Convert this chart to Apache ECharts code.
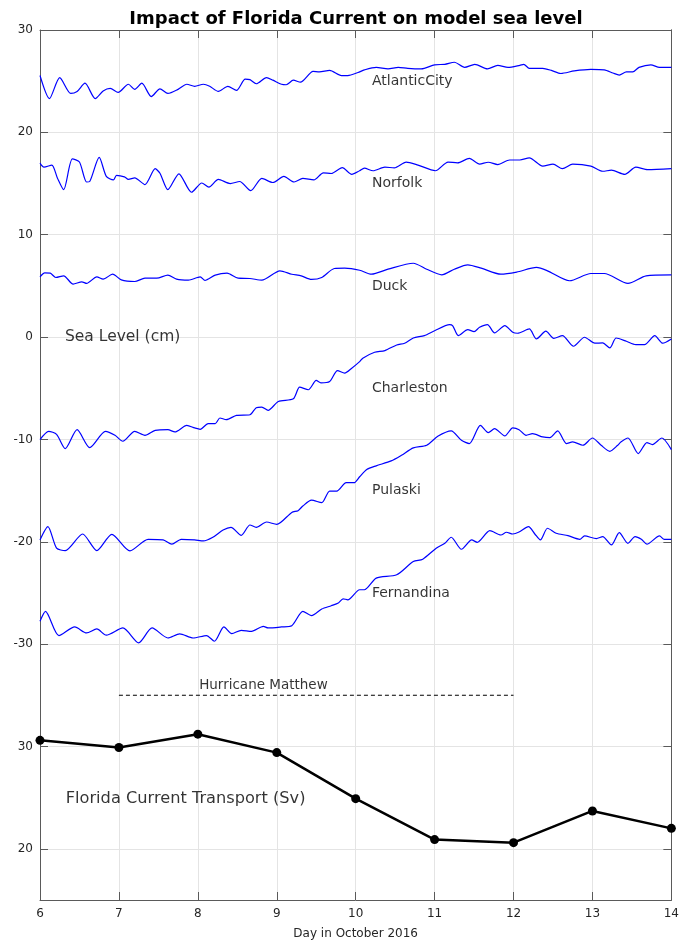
<!DOCTYPE html>
<html>
<head>
<meta charset="utf-8">
<title>Impact of Florida Current on model sea level</title>
<script src="https://cdn.jsdelivr.net/npm/echarts@6/dist/echarts.min.js"></script>
<style>
  html, body { margin: 0; padding: 0; background: #ffffff; }
  #chart { width: 682px; height: 945px; }
</style>
</head>
<body>
<div id="chart"></div>
<script>
// Model sea level (cm, stations offset for display) against day in October 2016
const atlanticCity = [[6.00,25.55],[6.12,23.3],[6.25,25.35],[6.39,23.8],[6.47,24.0],[6.57,24.8],[6.70,23.3],[6.80,24.05],[6.89,24.3],[6.99,23.9],[7.12,24.7],[7.20,24.2],[7.29,24.8],[7.41,23.5],[7.52,24.25],[7.62,23.8],[7.75,24.2],[7.86,24.7],[7.96,24.5],[8.07,24.7],[8.15,24.5],[8.26,24.0],[8.38,24.5],[8.49,24.1],[8.60,25.2],[8.66,25.15],[8.74,24.75],[8.87,25.35],[8.95,25.1],[9.06,24.7],[9.12,24.65],[9.21,25.1],[9.30,24.9],[9.46,25.95],[9.54,25.9],[9.67,26.05],[9.82,25.55],[9.90,25.55],[10.03,25.85],[10.11,26.1],[10.26,26.35],[10.41,26.2],[10.54,26.35],[10.66,26.25],[10.83,26.2],[11.00,26.6],[11.13,26.65],[11.25,26.85],[11.38,26.35],[11.51,26.65],[11.67,26.2],[11.80,26.55],[11.93,26.35],[12.08,26.55],[12.13,26.65],[12.20,26.25],[12.37,26.25],[12.48,26.05],[12.60,25.75],[12.77,26.0],[12.98,26.15],[13.15,26.1],[13.26,25.8],[13.34,25.6],[13.43,25.9],[13.51,25.9],[13.59,26.35],[13.74,26.6],[13.85,26.35],[14.00,26.35]];

const norfolk = [[6.00,17.0],[6.05,16.6],[6.15,16.8],[6.22,15.55],[6.30,14.4],[6.41,17.4],[6.50,17.1],[6.59,15.15],[6.63,15.2],[6.75,17.55],[6.84,15.7],[6.93,15.35],[6.97,15.8],[7.07,15.65],[7.12,15.4],[7.20,15.55],[7.33,14.9],[7.46,16.45],[7.52,16.0],[7.62,14.4],[7.76,15.95],[7.92,14.15],[8.05,15.05],[8.14,14.65],[8.26,15.4],[8.41,15.0],[8.53,15.2],[8.67,14.3],[8.81,15.5],[8.95,15.1],[9.09,15.7],[9.22,15.15],[9.33,15.5],[9.47,15.35],[9.59,16.05],[9.69,15.98],[9.83,16.55],[9.95,15.9],[10.05,16.25],[10.11,16.5],[10.22,16.25],[10.37,16.6],[10.49,16.53],[10.64,17.1],[10.79,16.8],[11.01,16.25],[11.17,17.1],[11.29,17.02],[11.44,17.45],[11.57,16.9],[11.68,17.08],[11.80,16.85],[11.95,17.3],[12.08,17.3],[12.20,17.5],[12.37,16.7],[12.50,16.9],[12.62,16.45],[12.75,16.9],[12.98,16.7],[13.13,16.2],[13.24,16.3],[13.41,15.9],[13.55,16.6],[13.70,16.35],[14.00,16.45]];

const duck = [[6.00,5.88],[6.06,6.27],[6.13,6.24],[6.20,5.82],[6.30,5.98],[6.42,5.17],[6.53,5.4],[6.59,5.24],[6.72,5.88],[6.80,5.66],[6.92,6.14],[7.03,5.59],[7.20,5.43],[7.33,5.75],[7.48,5.75],[7.62,6.05],[7.73,5.66],[7.88,5.56],[8.03,5.88],[8.09,5.53],[8.22,6.05],[8.37,6.24],[8.51,5.75],[8.66,5.72],[8.81,5.56],[9.04,6.47],[9.19,6.14],[9.31,5.98],[9.44,5.63],[9.57,5.82],[9.73,6.7],[9.86,6.73],[10.05,6.53],[10.20,6.14],[10.41,6.63],[10.73,7.21],[10.90,6.63],[11.09,6.08],[11.25,6.63],[11.42,7.05],[11.59,6.73],[11.84,6.14],[12.04,6.35],[12.29,6.8],[12.43,6.47],[12.71,5.5],[12.98,6.21],[13.15,6.21],[13.45,5.24],[13.68,5.98],[14.00,6.08]];

const charleston = [[6.00,-10.02],[6.11,-9.21],[6.21,-9.5],[6.32,-10.9],[6.47,-9.05],[6.63,-10.8],[6.83,-9.21],[6.95,-9.6],[7.05,-10.18],[7.20,-9.21],[7.33,-9.6],[7.46,-9.11],[7.62,-9.05],[7.71,-9.27],[7.86,-8.63],[7.96,-8.88],[8.03,-9.01],[8.13,-8.46],[8.22,-8.46],[8.28,-7.91],[8.36,-8.07],[8.49,-7.65],[8.66,-7.59],[8.74,-6.9],[8.81,-6.84],[8.89,-7.16],[9.02,-6.29],[9.21,-6.03],[9.29,-4.89],[9.40,-5.15],[9.50,-4.24],[9.56,-4.47],[9.67,-4.34],[9.77,-3.27],[9.86,-3.52],[9.95,-3.04],[10.05,-2.4],[10.09,-2.06],[10.24,-1.48],[10.37,-1.32],[10.52,-0.77],[10.62,-0.6],[10.73,-0.09],[10.87,0.14],[11.00,0.62],[11.19,1.21],[11.23,1.1],[11.30,0.14],[11.42,0.72],[11.50,0.53],[11.57,0.95],[11.67,1.21],[11.76,0.4],[11.89,1.11],[11.99,0.47],[12.05,0.37],[12.20,0.79],[12.29,-0.18],[12.41,0.57],[12.51,-0.12],[12.62,0.14],[12.76,-0.9],[12.90,-0.02],[13.03,-0.6],[13.13,-0.57],[13.22,-1.06],[13.30,-0.09],[13.43,-0.41],[13.55,-0.74],[13.66,-0.74],[13.79,0.14],[13.89,-0.6],[14.00,-0.18]];

const pulaski = [[6.00,-19.82],[6.10,-18.52],[6.21,-20.63],[6.32,-20.86],[6.54,-19.24],[6.72,-20.86],[6.91,-19.27],[7.14,-20.89],[7.37,-19.76],[7.56,-19.82],[7.67,-20.24],[7.79,-19.76],[7.96,-19.82],[8.07,-19.92],[8.19,-19.56],[8.32,-18.85],[8.42,-18.59],[8.55,-19.37],[8.66,-18.36],[8.74,-18.59],[8.87,-18.07],[9.00,-18.3],[9.19,-17.13],[9.27,-16.96],[9.33,-16.51],[9.44,-15.93],[9.57,-16.18],[9.67,-15.05],[9.76,-15.05],[9.88,-14.23],[9.98,-14.23],[10.05,-13.65],[10.14,-12.94],[10.26,-12.58],[10.45,-12.1],[10.58,-11.55],[10.73,-10.83],[10.90,-10.57],[11.04,-9.7],[11.21,-9.17],[11.34,-10.09],[11.44,-10.41],[11.58,-8.63],[11.68,-9.34],[11.76,-8.95],[11.89,-9.66],[11.99,-8.88],[12.07,-9.05],[12.16,-9.6],[12.24,-9.44],[12.37,-9.76],[12.46,-9.83],[12.56,-9.17],[12.67,-10.41],[12.75,-10.25],[12.88,-10.57],[13.00,-9.86],[13.11,-10.57],[13.22,-11.16],[13.32,-10.57],[13.36,-10.25],[13.45,-9.86],[13.58,-11.38],[13.69,-10.31],[13.76,-10.5],[13.88,-9.86],[14.00,-11.0]];

const fernandina = [[6.00,-27.77],[6.07,-26.8],[6.24,-29.17],[6.44,-28.32],[6.59,-28.91],[6.72,-28.52],[6.84,-29.13],[7.05,-28.42],[7.25,-29.88],[7.42,-28.42],[7.62,-29.4],[7.77,-29.0],[7.94,-29.4],[8.11,-29.17],[8.21,-29.72],[8.33,-28.32],[8.43,-28.98],[8.55,-28.65],[8.68,-28.75],[8.83,-28.26],[8.89,-28.42],[9.06,-28.32],[9.19,-28.2],[9.33,-26.8],[9.44,-27.22],[9.57,-26.57],[9.69,-26.25],[9.78,-25.99],[9.84,-25.57],[9.90,-25.67],[10.05,-24.69],[10.11,-24.69],[10.26,-23.55],[10.52,-23.23],[10.73,-21.93],[10.85,-21.7],[11.02,-20.63],[11.13,-20.15],[11.21,-19.56],[11.34,-20.73],[11.47,-19.82],[11.54,-20.05],[11.70,-18.92],[11.84,-19.34],[11.91,-19.07],[11.99,-19.24],[12.07,-19.05],[12.19,-18.52],[12.27,-19.24],[12.34,-19.82],[12.43,-18.68],[12.54,-19.17],[12.69,-19.4],[12.84,-19.76],[12.90,-19.43],[13.05,-19.69],[13.13,-19.5],[13.24,-20.31],[13.34,-19.11],[13.45,-20.15],[13.54,-19.5],[13.62,-19.76],[13.69,-20.24],[13.85,-19.43],[13.91,-19.76],[14.00,-19.76]];

const stationNames = ['AtlanticCity', 'Norfolk', 'Duck', 'Charleston', 'Pulaski', 'Fernandina'];
const stationSeries = [atlanticCity, norfolk, duck, charleston, pulaski, fernandina];
const stationLabelLevels = [25, 15, 5, -5, -15, -25];
const stationLabelDay = 10.2;

// Florida Current transport (Sv), one value per day
const transportDays = [6, 7, 8, 9, 10, 11, 12, 13, 14];
const transportSv = [30.6, 29.9, 31.2, 29.4, 24.9, 20.9, 20.6, 23.7, 22.0];

// Hurricane Matthew period
const hurricaneStart = 7;
const hurricaneEnd = 12;
const hurricaneLevel = -35;

// Axis ticks
const dayTicks = [6, 7, 8, 9, 10, 11, 12, 13, 14];
const seaLevelTicks = [-30, -20, -10, 0, 10, 20, 30];
const transportTicks = [20, 30];

const FONT = 'DejaVu Sans';
const AXIS_COLOR = '#5a5a5a';
const GRID_COLOR = '#e4e4e4';
const TEXT_COLOR = '#262626';

// Both vertical scales share the frame: sea level -55..30 cm, transport 15..100 Sv
const CM_MIN = -55, CM_MAX = 30;
const SV_MIN = 15, SV_MAX = 100;

const chart = echarts.init(document.getElementById('chart'), null, { renderer: 'canvas' });

const frameLine = { show: true, onZero: false, lineStyle: { color: AXIS_COLOR, width: 1 } };

function mirrorY(min, max, ticks) {
  return {
    type: 'value', position: 'right', min: min, max: max,
    axisLine: frameLine,
    axisTick: { show: true, inside: true, length: 8, customValues: ticks, lineStyle: { color: AXIS_COLOR } },
    axisLabel: { show: false, customValues: ticks },
    splitLine: { show: false }
  };
}

const lineSeries = stationSeries.map((data, i) => ({
  name: stationNames[i],
  type: 'line',
  xAxisIndex: 0,
  yAxisIndex: 0,
  data: data,
  symbol: 'none',
  smooth: 0.25,
  silent: true,
  lineStyle: { color: '#0000ff', width: 1.2 },
  z: 3
}));

const annotationStyle = {
  show: true, position: 'right', distance: 0, formatter: '{b}',
  color: '#000000', fontFamily: FONT, fontSize: 14
};

const option = {
  animation: false,
  backgroundColor: '#ffffff',
  title: {
    text: 'Impact of Florida Current on model sea level',
    left: 351, textAlign: 'center', top: 5,
    textStyle: { fontFamily: FONT, fontSize: 18, fontWeight: 'bold', color: '#000000' }
  },
  grid: { left: 40, right: 9, top: 30, bottom: 42, containLabel: false },
  xAxis: [
    {
      type: 'value', position: 'bottom', min: 6, max: 14, interval: 1,
      name: 'Day in October 2016', nameLocation: 'middle', nameGap: 28,
      nameTextStyle: { fontFamily: FONT, fontSize: 12, color: TEXT_COLOR },
      axisLine: frameLine,
      axisTick: { show: true, inside: true, length: 8, lineStyle: { color: AXIS_COLOR } },
      axisLabel: { margin: 8, fontFamily: FONT, fontSize: 12, color: TEXT_COLOR,
        customValues: dayTicks },
      splitLine: { show: true, lineStyle: { color: GRID_COLOR, width: 1 } }
    },
    {
      type: 'value', position: 'top', min: 6, max: 14, interval: 1,
      axisLine: frameLine,
      axisTick: { show: true, inside: true, length: 8, lineStyle: { color: AXIS_COLOR } },
      axisLabel: { show: false },
      splitLine: { show: false }
    }
  ],
  yAxis: [
    {
      type: 'value', position: 'left', min: CM_MIN, max: CM_MAX,
      axisLine: frameLine,
      axisTick: { show: true, inside: true, length: 8, customValues: seaLevelTicks, lineStyle: { color: AXIS_COLOR } },
      axisLabel: { margin: 7, fontFamily: FONT, fontSize: 12, color: TEXT_COLOR, customValues: seaLevelTicks },
      splitLine: { show: true, lineStyle: { color: GRID_COLOR, width: 1 } }
    },
    {
      type: 'value', position: 'left', min: SV_MIN, max: SV_MAX,
      axisLine: { show: false, onZero: false },
      axisTick: { show: true, inside: true, length: 8, customValues: transportTicks, lineStyle: { color: AXIS_COLOR } },
      axisLabel: { margin: 7, fontFamily: FONT, fontSize: 12, color: TEXT_COLOR, customValues: transportTicks },
      splitLine: { show: true, lineStyle: { color: GRID_COLOR, width: 1 } }
    },
    mirrorY(CM_MIN, CM_MAX, seaLevelTicks),
    mirrorY(SV_MIN, SV_MAX, transportTicks)
  ],
  series: lineSeries.concat([
    {
      name: 'Florida Current Transport',
      type: 'line',
      xAxisIndex: 0,
      yAxisIndex: 1,
      data: transportDays.map((d, i) => [d, transportSv[i]]),
      symbol: 'circle',
      symbolSize: 9,
      silent: true,
      lineStyle: { color: '#000000', width: 2.5 },
      itemStyle: { color: '#000000' },
      z: 4
    },
    {
      name: 'Hurricane Matthew',
      type: 'line',
      xAxisIndex: 0,
      yAxisIndex: 0,
      data: [[hurricaneStart, hurricaneLevel], [hurricaneEnd, hurricaneLevel]],
      symbol: 'none',
      silent: true,
      lineStyle: { color: '#000000', width: 1.1, type: [4, 3], opacity: 1 },
      z: 3
    },
    {
      name: 'sea level text',
      type: 'scatter',
      xAxisIndex: 0,
      yAxisIndex: 0,
      symbolSize: 1,
      silent: true,
      itemStyle: { color: 'rgba(0,0,0,0)' },
      label: annotationStyle,
      data: stationNames.map((n, i) => ({ name: n, value: [stationLabelDay, stationLabelLevels[i]] }))
        .concat([
          { name: 'Sea Level (cm)', value: [6.31, 0], label: { fontSize: 15.5 } },
          { name: 'Hurricane Matthew', value: [8.01, -34.0], label: { fontSize: 13.5 } }
        ]),
      z: 5
    },
    {
      name: 'transport text',
      type: 'scatter',
      xAxisIndex: 0,
      yAxisIndex: 1,
      symbolSize: 1,
      silent: true,
      itemStyle: { color: 'rgba(0,0,0,0)' },
      label: annotationStyle,
      data: [{ name: 'Florida Current Transport (Sv)', value: [6.32, 24.9], label: { fontSize: 16.2 } }],
      z: 5
    }
  ])
};

chart.setOption(option);
</script>
</body>
</html>
